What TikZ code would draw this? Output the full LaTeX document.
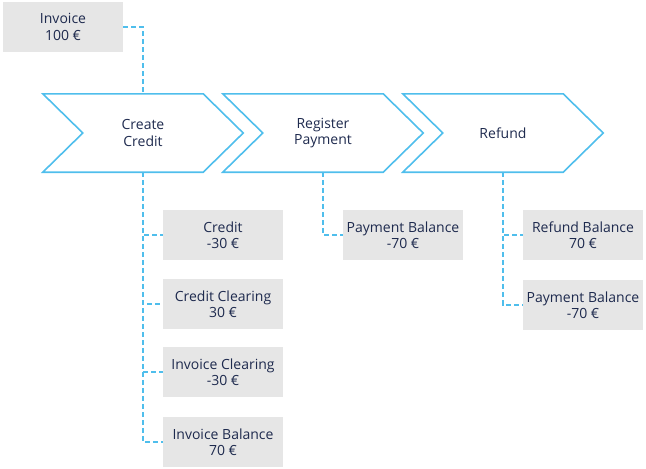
\documentclass[tikz,border=0pt]{standalone}
\usepackage{fontspec}
\setmainfont{Open Sans}
\usetikzlibrary{positioning}
\definecolor{flowblue}{RGB}{79,190,236}
\definecolor{ledgergray}{RGB}{230,230,230}
\definecolor{inkblue}{RGB}{30,42,78}

\begin{document}
\begin{tikzpicture}[x=1pt,y=-1pt,
	every node/.style={text=inkblue,font=\fontsize{14}{16.5}\selectfont,align=center},
	stage/.style={minimum width=200pt,minimum height=78pt,inner sep=0pt},
	chevron/.style={draw=flowblue,line width=1.6pt,line join=miter},
	account/.style={fill=ledgergray,minimum width=120pt,minimum height=50pt,inner sep=0pt},
	link/.style={draw=flowblue,line width=1.6pt,dash pattern=on 5pt off 3pt},
	]

	\useasboundingbox (0,0) rectangle (646,469);

	% process stages
	\node[stage] (create) at (143,133) {Create\\Credit};
	\node[stage] (register) at (323,133) {Register\\Payment};
	\node[stage] (refund) at (503,133) {Refund};

	\foreach \s in {create,register,refund}
		\draw[chevron] (\s.north west) -- ([xshift=-40pt]\s.north east) -- (\s.east)
			-- ([xshift=-40pt]\s.south east) -- (\s.south west) -- ([xshift=40pt]\s.west) -- cycle;

	% source document
	\node[account] (invoice) at (63,27) {Invoice\\100 €};

	% postings
	\node[account] (credit) at (223,235) {Credit\\-30 €};
	\node[account] (crclear) at (223,304) {Credit Clearing\\30 €};
	\node[account] (invclear) at (223,372) {Invoice Clearing\\-30 €};
	\node[account] (invbal) at (223,442) {Invoice Balance\\70 €};

	\node[account] (paybal) at (403,235) {Payment Balance\\-70 €};

	\node[account] (refbal) at (583,235) {Refund Balance\\70 €};
	\node[account] (paybal2) at (583,305) {Payment Balance\\-70 €};

	\draw[link] (invoice.east) -| (create.north);

	\foreach \a in {credit,crclear,invclear,invbal}
		\draw[link] (create.south) |- (\a.west);
	\draw[link] (register.south) |- (paybal.west);
	\draw[link] (refund.south) |- (refbal.west);
	\draw[link] (refund.south) |- (paybal2.west);

\end{tikzpicture}
\end{document}
